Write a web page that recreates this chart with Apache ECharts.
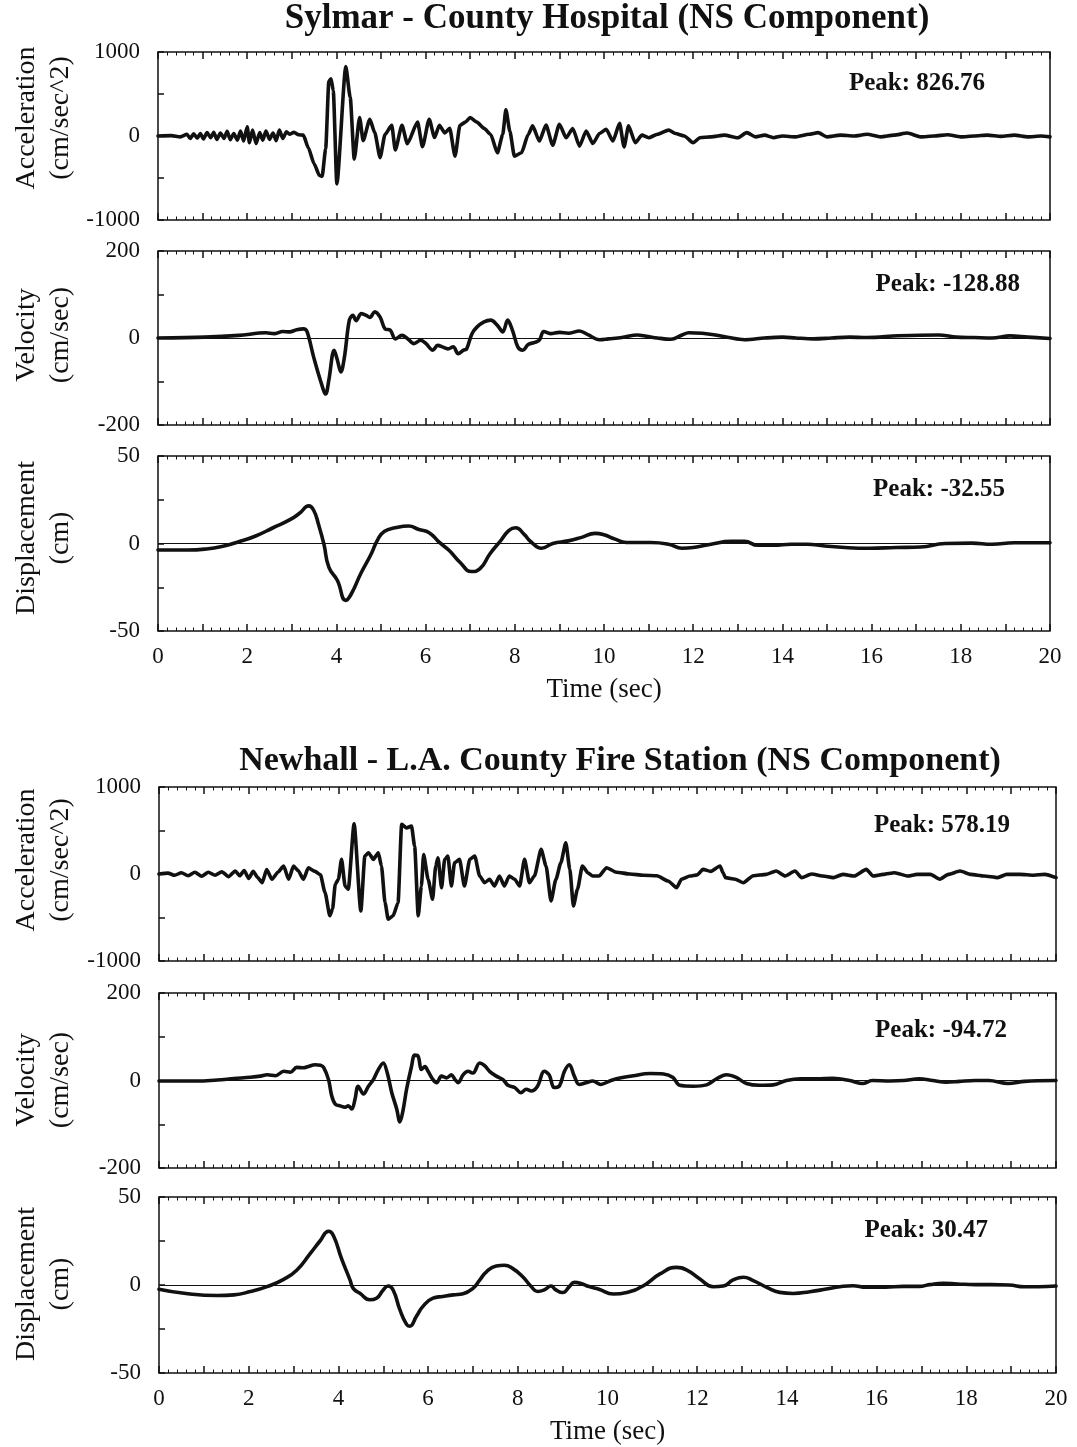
<!DOCTYPE html>
<html>
<head>
<meta charset="utf-8">
<script src="https://cdn.jsdelivr.net/npm/echarts@6/dist/echarts.min.js"></script>
<style>html,body{margin:0;padding:0;background:#fff}#c{width:1077px;height:1447px}</style>
</head>
<body>
<div id="c"></div>
<script>
// ---------- DATA ----------
const timeTickLabels = [0, 2, 4, 6, 8, 10, 12, 14, 16, 18, 20];
const accTickLabels = [-1000, 0, 1000];
const velTickLabels = [-200, 0, 200];
const dispTickLabels = [-50, 0, 50];

const titles = ['Sylmar - County Hospital (NS Component)', 'Newhall - L.A. County Fire Station (NS Component)'];
const peakTexts = ['Peak: 826.76', 'Peak: -128.88', 'Peak: -32.55', 'Peak: 578.19', 'Peak: -94.72', 'Peak: 30.47'];

const sylmarAcc = [[0,0],[0.3,5],[0.5,-10],[0.65,20],[0.72,-30],[0.8,25],[0.88,-25],[0.95,30],[1.02,-35],[1.1,40],[1.18,-20],[1.25,45],[1.32,-40],[1.4,35],[1.48,-30],[1.55,55],[1.62,-45],[1.7,30],[1.78,-50],[1.85,60],[1.92,-60],[2.0,110],[2.05,-80],[2.12,70],[2.2,-90],[2.28,40],[2.35,-50],[2.42,60],[2.5,-40],[2.58,35],[2.65,-55],[2.72,70],[2.8,-30],[2.88,50],[2.95,20],[3.05,45],[3.15,15],[3.26,10],[3.37,-140],[3.5,-330],[3.62,-470],[3.68,-480],[3.76,-150],[3.83,650],[3.88,680],[3.93,540],[4.01,-570],[4.21,827],[4.31,460],[4.4,-275],[4.52,220],[4.6,-55],[4.75,200],[4.86,40],[4.98,-257],[5.09,18],[5.24,128],[5.32,-165],[5.47,128],[5.59,-92],[5.82,165],[5.93,-128],[6.08,200],[6.2,-18],[6.31,128],[6.43,37],[6.54,92],[6.66,-240],[6.77,128],[6.89,165],[7.0,220],[7.15,165],[7.31,92],[7.46,18],[7.61,-200],[7.73,18],[7.8,312],[7.89,55],[7.99,-240],[8.15,-200],[8.3,18],[8.4,120],[8.55,-60],[8.7,130],[8.85,-110],[9.0,140],[9.15,-20],[9.3,90],[9.45,-120],[9.6,60],[9.75,-90],[9.9,30],[10.05,80],[10.2,-60],[10.35,150],[10.45,-130],[10.55,120],[10.7,-80],[10.85,10],[11.0,-20],[11.2,20],[11.45,70],[11.6,30],[11.8,0],[12.0,-80],[12.15,-20],[12.4,-10],[12.7,10],[13.0,-20],[13.2,40],[13.4,-10],[13.6,10],[13.8,-20],[14.0,0],[14.3,-10],[14.6,20],[14.8,40],[15.0,-10],[15.3,10],[15.6,0],[15.9,20],[16.2,-10],[16.5,10],[16.8,35],[17.1,-10],[17.4,0],[17.7,15],[18.0,-10],[18.3,0],[18.6,10],[18.9,-5],[19.2,10],[19.5,-10],[19.8,0],[20,-10]];

const sylmarVel = [[0,0],[1.05,2],[1.81,6],[2.42,12],[2.6,10],[2.8,15],[2.95,14],[3.11,19],[3.26,21],[3.34,15],[3.49,-44],[3.64,-97],[3.76,-128.9],[3.83,-97],[3.95,-28],[4.02,-50],[4.1,-78],[4.18,-44],[4.29,41],[4.37,52],[4.44,40],[4.56,56],[4.67,52],[4.75,47],[4.86,60],[4.98,48],[5.09,21],[5.21,18],[5.32,-2],[5.47,6],[5.59,-1],[5.74,-13],[5.89,-5],[6.01,-13],[6.16,-28],[6.27,-17],[6.39,-21],[6.5,-25],[6.62,-20],[6.73,-36],[6.85,-28],[6.92,-25],[7.04,10],[7.15,25],[7.31,37],[7.46,41],[7.61,29],[7.73,14],[7.84,41],[7.95,17],[8.07,-21],[8.18,-28],[8.3,-15],[8.45,-10],[8.55,-5],[8.65,15],[8.8,10],[9.0,13],[9.2,11],[9.45,16],[9.65,7],[9.9,-4],[10.1,-2],[10.4,1],[10.75,7],[10.95,4],[11.2,0],[11.5,-3],[11.75,7],[11.9,12],[12.2,11],[12.5,7],[12.8,1],[13.15,-4],[13.6,0],[14.0,2],[14.3,0],[14.7,-2],[15.1,0],[15.5,2],[15.9,1],[16.6,5],[17.5,7],[17.9,2],[18.3,1],[18.7,0],[19.1,5],[19.5,2],[20,-1]];

const sylmarDisp = [[0,-3.7],[0.67,-3.7],[1.05,-3.2],[1.43,-1.7],[1.81,1.0],[2.19,4.3],[2.58,9],[2.96,13.6],[3.18,17.4],[3.38,21.5],[3.49,19],[3.6,10.8],[3.72,-0.4],[3.83,-13.5],[4.02,-21],[4.21,-32.5],[4.33,-29],[4.55,-17],[4.78,-6],[4.93,2.4],[5.08,7],[5.32,9],[5.62,10],[5.85,8],[6.08,6.2],[6.31,0.6],[6.53,-4],[6.77,-10.7],[7.03,-16],[7.22,-14.4],[7.44,-6],[7.68,1.5],[7.87,7.5],[8.02,9],[8.21,5.2],[8.36,1],[8.6,-2.7],[8.85,0],[9.2,1.5],[9.5,3.5],[9.8,5.8],[10.0,5],[10.25,2.5],[10.5,0.6],[11.05,0.6],[11.45,-0.4],[11.75,-2.7],[12.0,-2.3],[12.4,-0.4],[12.85,1.2],[13.15,1.2],[13.45,-1],[13.8,-1],[14.2,-0.4],[14.55,-0.4],[14.95,-1.4],[15.4,-2.3],[15.95,-2.7],[16.55,-2.3],[17.1,-2],[17.65,0],[18.25,0.2],[18.7,-0.4],[19.2,0.4],[20,0.4]];

const newhallAcc = [[0,0],[0.2,10],[0.35,-15],[0.5,15],[0.65,-20],[0.8,20],[0.95,-25],[1.1,20],[1.25,-15],[1.4,25],[1.55,-30],[1.7,35],[1.8,-20],[1.9,40],[2.0,-50],[2.1,30],[2.2,-40],[2.3,-100],[2.4,50],[2.52,-60],[2.65,20],[2.78,90],[2.89,-60],[3.0,90],[3.1,40],[3.22,-60],[3.33,70],[3.48,30],[3.6,-10],[3.7,-210],[3.81,-480],[3.87,-400],[3.93,-120],[4.0,-60],[4.07,170],[4.15,-140],[4.22,-175],[4.35,578],[4.5,-425],[4.59,206],[4.67,245],[4.78,168],[4.89,245],[4.96,92],[5.04,-330],[5.11,-520],[5.22,-480],[5.33,-330],[5.41,570],[5.52,530],[5.63,550],[5.7,320],[5.78,-480],[5.85,-140],[5.9,225],[6.0,-60],[6.1,-290],[6.17,92],[6.22,187],[6.3,-157],[6.37,168],[6.44,206],[6.52,-138],[6.59,130],[6.7,168],[6.81,-138],[6.93,168],[7.04,206],[7.15,-23],[7.26,-100],[7.37,-61],[7.48,-138],[7.59,-23],[7.7,-138],[7.81,-23],[7.93,-61],[8.04,-138],[8.15,168],[8.26,-100],[8.37,-23],[8.52,283],[8.63,92],[8.74,-310],[8.85,-61],[8.96,130],[9.07,360],[9.16,53],[9.24,-367],[9.33,-176],[9.44,92],[9.56,15],[9.67,-23],[9.81,-23],[9.98,72],[10.2,20],[10.5,0],[10.8,-15],[11.1,-20],[11.35,-80],[11.54,-157],[11.65,-60],[11.84,-23],[12.0,-10],[12.13,53],[12.3,30],[12.51,92],[12.58,10],[12.63,-42],[12.85,-60],[13.03,-100],[13.25,-20],[13.54,-4],[13.76,34],[13.96,-23],[14.18,34],[14.33,-42],[14.55,0],[14.8,-23],[15.03,-42],[15.25,-4],[15.5,-23],[15.77,53],[15.92,-23],[16.15,-4],[16.4,15],[16.7,-23],[16.9,-4],[17.2,-4],[17.41,-60],[17.6,-4],[17.86,34],[18.1,-4],[18.4,-23],[18.7,-42],[18.9,-4],[19.2,-4],[19.5,-15],[19.75,-4],[20,-42]];

const newhallVel = [[0,-1],[0.93,-1],[1.3,1],[1.67,4.5],[2.04,7.5],[2.26,10],[2.41,13],[2.6,11],[2.78,21],[2.93,19],[3.07,30],[3.22,29],[3.33,32],[3.48,36],[3.6,35],[3.67,30],[3.78,2],[3.85,-35],[3.93,-54],[4.04,-58],[4.15,-61],[4.22,-58],[4.3,-65],[4.37,-43],[4.44,-13],[4.56,-31],[4.67,-13],[4.78,2],[4.89,25],[5.0,40],[5.09,17],[5.19,-28],[5.3,-65],[5.37,-94.7],[5.44,-69],[5.52,-20],[5.63,32],[5.7,58],[5.78,55],[5.85,25],[5.93,32],[6.0,21],[6.11,2],[6.19,-5],[6.3,10],[6.41,6],[6.52,13],[6.6,2],[6.67,-5],[6.78,13],[6.89,21],[7.0,17],[7.15,40],[7.26,34],[7.37,21],[7.52,10],[7.67,2],[7.78,-11],[7.93,-16],[8.07,-28],[8.19,-20],[8.3,-24],[8.44,-13],[8.59,21],[8.7,13],[8.81,-16],[8.93,-12],[9.04,21],[9.15,36],[9.26,10],[9.37,-9],[9.52,-5],[9.67,-1],[9.85,-9],[10.05,-1],[10.2,4],[10.58,11],[10.95,16],[11.25,15],[11.46,7],[11.61,-11],[11.91,-13],[12.21,-10],[12.43,4],[12.65,13],[12.87,7],[13.1,-7],[13.39,-11],[13.69,-10],[13.99,0],[14.3,4],[14.66,4],[15.03,5],[15.4,0],[15.69,-7],[15.9,0],[16.3,-1],[16.6,0],[16.95,4],[17.25,0],[17.55,-4],[17.85,-2],[18.2,0],[18.5,0],[18.93,-7],[19.3,-2],[20,0]];

const newhallDisp = [[0,-2.4],[0.56,-4.7],[1.3,-6],[1.67,-5.6],[2.04,-3.7],[2.41,-0.9],[2.78,3.2],[3.07,8.4],[3.37,17.8],[3.59,25],[3.78,30.5],[3.89,28],[4.07,15],[4.26,2.8],[4.33,-1.9],[4.48,-4.7],[4.7,-8.4],[4.85,-7.5],[5.0,-2.8],[5.11,-0.6],[5.22,-2.8],[5.37,-14],[5.52,-22.4],[5.59,-23.4],[5.74,-17.8],[5.89,-12],[6.11,-7.5],[6.33,-6.5],[6.56,-5.6],[6.78,-5],[7.0,-1.9],[7.15,2.8],[7.3,7.5],[7.52,10.8],[7.7,11.2],[7.89,9.3],[8.11,4.7],[8.3,-0.9],[8.44,-3.7],[8.59,-2.8],[8.74,-0.6],[8.85,-2.8],[9.0,-4.3],[9.15,-0.9],[9.26,1.5],[9.41,0.9],[9.59,-0.9],[9.81,-2.4],[10.13,-5.1],[10.43,-4.2],[10.8,-0.4],[11.17,6.3],[11.54,10],[11.76,8.6],[12.06,3.4],[12.36,-1],[12.58,-0.6],[12.8,2.9],[13.03,4.4],[13.25,2.5],[13.55,-1.3],[13.84,-4.2],[14.14,-4.8],[14.51,-3.8],[14.88,-2.3],[15.18,-1],[15.47,-0.4],[15.77,-1.3],[16.2,-1.2],[16.6,-0.8],[16.95,-0.8],[17.18,0.2],[17.48,1],[17.8,0.6],[18.2,0.2],[18.55,0.2],[18.95,0],[19.3,-1],[19.6,-1],[20,-0.6]];

// ---------- LAYOUT ----------
const FONT = '"Liberation Serif", "Times New Roman", serif';
const INK = '#111';
const panels = [
  {data: sylmarAcc,  range: 1000, step: 500, labels: accTickLabels,  name: ['Acceleration', '(cm/sec^2)'], top: 52,  h: 168, left: 158, right: 27, zero: false, xLab: false, nameY: 118, smooth: 0.2, mono: 'x'},
  {data: sylmarVel,  range: 200,  step: 100, labels: velTickLabels,  name: ['Velocity', '(cm/sec)'],        top: 251, h: 174, left: 158, right: 27, zero: true,  xLab: false, nameY: 335, smooth: 0.35, mono: null},
  {data: sylmarDisp, range: 50,   step: 25,  labels: dispTickLabels, name: ['Displacement', '(cm)'],        top: 456, h: 175, left: 158, right: 27, zero: true,  xLab: true,  nameY: 538, smooth: 0.5, mono: null},
  {data: newhallAcc, range: 1000, step: 500, labels: accTickLabels,  name: ['Acceleration', '(cm/sec^2)'], top: 787, h: 174, left: 159, right: 21, zero: false, xLab: false, nameY: 860, smooth: 0.2, mono: 'x'},
  {data: newhallVel, range: 200,  step: 100, labels: velTickLabels,  name: ['Velocity', '(cm/sec)'],        top: 993, h: 175, left: 159, right: 21, zero: true,  xLab: false, nameY: 1080, smooth: 0.35, mono: null},
  {data: newhallDisp,range: 50,   step: 25,  labels: dispTickLabels, name: ['Displacement', '(cm)'],        top: 1197,h: 176, left: 159, right: 21, zero: true,  xLab: true,  nameY: 1284, smooth: 0.5, mono: null}
];
const peakPos = [[985, 84], [1020, 285], [1005, 490], [1010, 826], [1007, 1031], [988, 1231]];
const titlePos = [[607, 19], [620, 761]];
const titleSize = [35, 34];

const grid = [], xAxis = [], xAxisTop = [], yAxis = [], series = [], graphic = [];
panels.forEach((p, i) => {
  grid.push({left: p.left, right: p.right, top: p.top, height: p.h, show: true, borderColor: INK, borderWidth: 1.5, containLabel: false});
  const xBase = {
    gridIndex: i, type: 'value', min: 0, max: 20, interval: 1,
    axisLine: {show: false, onZero: false},
    axisTick: {inside: true, length: 7, lineStyle: {color: INK, width: 1.5}},
    minorTick: {show: true, splitNumber: 5, length: 3.5, lineStyle: {color: INK, width: 1}},
    splitLine: {show: false}, minorSplitLine: {show: false}
  };
  xAxis.push(Object.assign({}, xBase, {
    position: 'bottom',
    axisLabel: {show: p.xLab, margin: 14, fontFamily: FONT, fontSize: 23, color: INK,
      formatter: v => timeTickLabels.includes(v) ? String(v) : ''},
    name: p.xLab ? 'Time (sec)' : '', nameLocation: 'middle', nameGap: 45,
    nameTextStyle: {fontFamily: FONT, fontSize: 27, color: INK}
  }));
  xAxisTop.push(Object.assign({}, xBase, {position: 'top', axisLabel: {show: false}}));
  yAxis.push({
    gridIndex: i, type: 'value', min: -p.range, max: p.range, interval: p.step,
    axisLine: {show: false, onZero: false},
    axisTick: {inside: true, length: 6, lineStyle: {color: INK, width: 1.5}},
    splitLine: {show: false},
    axisLabel: {margin: 18, fontFamily: FONT, fontSize: 23, color: INK,
      formatter: v => p.labels.includes(v) ? String(v) : ''}
  });
  const s = {
    type: 'line', xAxisIndex: i, yAxisIndex: i, data: p.data,
    showSymbol: false, symbol: 'none', smooth: p.smooth,
    lineStyle: {color: INK, width: 3.6, join: 'round', cap: 'round'},
    silent: true, z: 3
  };
  if (p.mono) s.smoothMonotone = p.mono;
  if (p.zero) {
    s.markLine = {silent: true, symbol: 'none', label: {show: false},
      lineStyle: {color: INK, width: 1, type: 'solid'}, data: [{yAxis: 0}], z: 2};
  }
  series.push(s);
  graphic.push({type: 'text', x: 44, y: p.nameY, rotation: Math.PI / 2,
    style: {text: p.name.join('\n'), font: '28px ' + FONT, fill: INK,
      textAlign: 'center', textVerticalAlign: 'middle', lineHeight: 34}});
  graphic.push({type: 'text', x: peakPos[i][0], y: peakPos[i][1],
    style: {text: peakTexts[i], font: 'bold 25px ' + FONT, fill: INK,
      textAlign: 'right', textVerticalAlign: 'middle'}});
});
titles.forEach((t, i) => {
  graphic.push({type: 'text', x: titlePos[i][0], y: titlePos[i][1],
    style: {text: t, font: 'bold ' + titleSize[i] + 'px ' + FONT, fill: INK, textAlign: 'center', textVerticalAlign: 'middle'}});
});

const chart = echarts.init(document.getElementById('c'), null, {renderer: 'canvas'});
chart.setOption({
  backgroundColor: '#fff',
  animation: false,
  grid: grid,
  xAxis: xAxis.concat(xAxisTop),
  yAxis: yAxis,
  series: series,
  graphic: graphic
});
</script>
</body>
</html>
